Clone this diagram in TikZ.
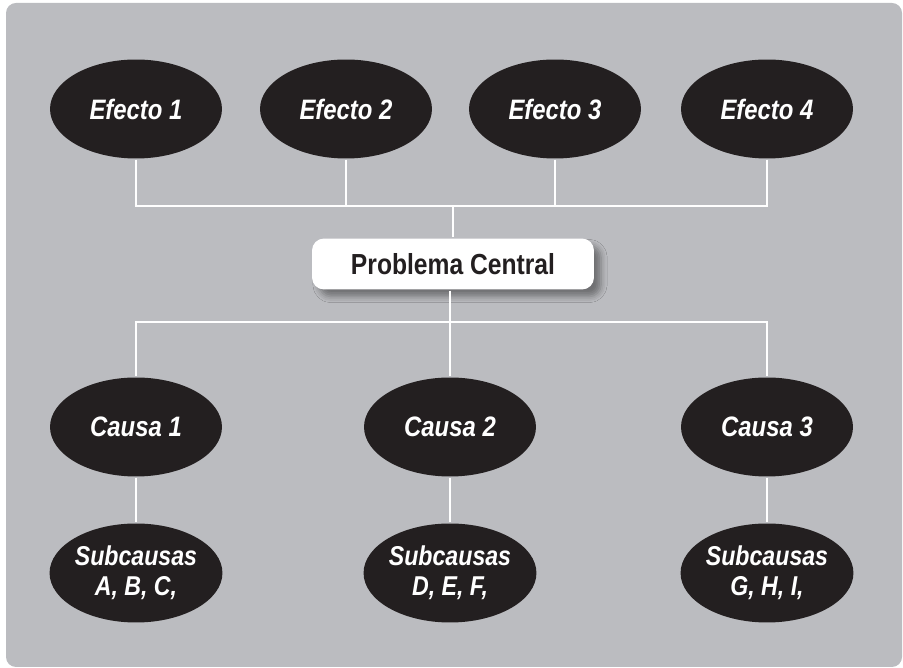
\documentclass[tikz,border=0pt]{standalone}
\usepackage{fontspec}
\setmainfont[FakeStretch=0.85]{Liberation Sans}
\usepackage{tikz}
\usetikzlibrary{shapes,shadows.blur}

\definecolor{panelgray}{RGB}{187,188,192}
\definecolor{inkblack}{RGB}{35,31,32}

\begin{document}
\begin{tikzpicture}[x=0.02cm,y=-0.02cm,line width=1.2pt]
	\def \efectoht{109}
	\def \topbar{206}
	\def \centralht{264}
	\def \lowbar{322}
	\def \causaht{427}
	\def \subht{573}

	\tikzstyle{e-node}=[ellipse,fill=inkblack,text=white,inner sep=0pt,minimum width=3.44cm,minimum height=1.98cm,font=\fontsize{16}{18}\selectfont\bfseries\itshape,align=center]
	\tikzstyle{s-node}=[e-node,font=\fontsize{15.5}{17}\selectfont\bfseries\itshape]
	\tikzstyle{p-node}=[rectangle,rounded corners=0.24cm,fill=white,text=inkblack,minimum width=5.64cm,minimum height=1.02cm,font=\fontsize{16.5}{18}\selectfont\bfseries,blur shadow={shadow xshift=4pt,shadow yshift=-4pt,shadow blur radius=3.5pt,shadow opacity=40}]
	\tikzstyle{link}=[draw=white]

	% background
	\useasboundingbox (0,0) rectangle (903,668);
	\fill[panelgray,rounded corners=0.2cm] (6,3) rectangle (902,667);

	% effects
	\node[e-node] (e1) at (136,\efectoht) {Efecto 1};
	\node[e-node] (e2) at (346,\efectoht) {Efecto 2};
	\node[e-node] (e3) at (555,\efectoht) {Efecto 3};
	\node[e-node] (e4) at (767,\efectoht) {Efecto 4};

	\coordinate (top) at (453,\topbar);
	\coordinate (bot) at (450,\lowbar);

	% causes
	\node[e-node] (c1) at (136,\causaht) {Causa 1};
	\node[e-node] (c2) at (450,\causaht) {Causa 2};
	\node[e-node] (c3) at (767,\causaht) {Causa 3};

	\node[s-node] (s1) at (136,\subht) {Subcausas\\A, B, C,};
	\node[s-node] (s2) at (450,\subht) {Subcausas\\D, E, F,};
	\node[s-node] (s3) at (767,\subht) {Subcausas\\G, H, I,};

	\draw[link] (e1.south) |- (top);
	\draw[link] (e2.south) |- (top);
	\draw[link] (e3.south) |- (top);
	\draw[link] (e4.south) |- (top);
	\draw[link] (bot) -| (c1.north);
	\draw[link] (bot) -| (c3.north);
	\draw[link] (bot) -- (c2.north);
	\draw[link] (c1) -- (s1);
	\draw[link] (c2) -- (s2);
	\draw[link] (c3) -- (s3);

	\node[p-node] (pc) at (453,\centralht) {Problema Central};
	\draw[link] (top) -- (pc.north);
	\draw[link] (pc.south -| bot) -- (bot);
\end{tikzpicture}
\end{document}
